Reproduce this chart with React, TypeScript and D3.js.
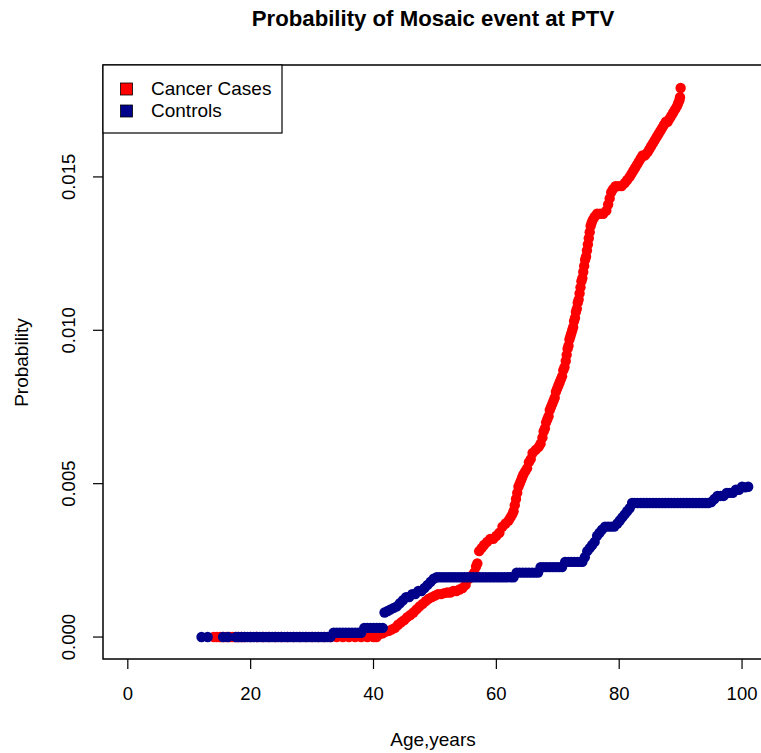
import React from "react";
import * as d3 from "d3";

const title = "Probability of Mosaic event at PTV";
const xLabel = "Age,years";
const yLabel = "Probability";
const seriesNames = ["Cancer Cases", "Controls"];
const seriesColors = ["#FF0000", "#00008B"];
const xTicks = [0, 20, 40, 60, 80, 100];
const yTicks = [0, 0.005, 0.01, 0.015];
const yTickLabels = ["0.000", "0.005", "0.010", "0.015"];

// Cancer cases: age, probability
const casesAge = [
  14, 14.5, 15, 15.5, 16, 16.5, 17, 17.5, 18, 18.5, 19, 20, 21, 22, 23, 24, 25, 26, 27, 28, 29, 30, 31, 32, 33, 34, 35, 36, 37, 38, 39, 40, 40.5,
  41, 41.5, 42, 42.5, 43, 43.5, 44, 44.5, 45, 45.5, 46, 46.5, 47, 47.5, 48, 48.5, 49, 49.5, 50, 50.5, 51, 51.5, 52, 52.5, 53, 53.5, 54, 54.5, 55, 55.5, 56, 56.4, 56.7, 56.9,
  57.2, 57.6, 58, 58.5, 59, 59.5, 60, 60.5, 61, 61.5, 62, 62.3,
  62.6, 62.8, 63.0, 63.2, 63.4, 63.6, 63.8, 64.0, 64.2, 64.4, 64.7, 65.0, 65.3, 65.6, 65.9, 66.4, 66.9, 67.2, 67.5, 67.7, 67.9, 68.1, 68.3, 68.5, 68.7, 68.9,
  69.1, 69.3, 69.5, 69.7, 69.9, 70.1, 70.3, 70.5, 70.7, 70.9, 71.1, 71.3, 71.45, 71.6, 71.75, 71.9, 72.05, 72.2, 72.35, 72.5, 72.65, 72.8, 72.95,
  73.1, 73.25, 73.4, 73.55, 73.7, 73.85, 74.0, 74.15, 74.3, 74.45, 74.6, 74.75, 74.9, 75.05, 75.2, 75.35, 75.5, 75.7, 76.0, 76.4, 76.9, 77.4, 77.9,
  78.2, 78.45, 78.7, 79.0, 79.4, 79.9, 80.4, 80.9, 81.3, 81.7, 82.0, 82.3, 82.6, 82.9, 83.2, 83.5, 83.8, 84.2, 84.6, 84.9, 85.2, 85.5, 85.8,
  86.1, 86.4, 86.7, 87.0, 87.3, 87.6, 87.9, 88.2, 88.5, 88.8, 89.1, 89.4, 89.6, 89.8, 89.9, 90.0,
];
const casesProb = [
  0, 0, 0, 0, 0, 0, 0, 0, 0, 0, 0, 0, 0, 0, 0, 0, 0, 0, 0, 0, 0, 0, 0, 0, 0, 0, 0, 0, 0, 0, 0, 0, 0,
  0.0001, 0.00012, 0.00018, 0.0002, 0.00025, 0.0003, 0.0004, 0.00048, 0.00055, 0.00065, 0.00072, 0.0008, 0.0009, 0.001, 0.00108, 0.00117, 0.00125, 0.0013, 0.00135, 0.0014, 0.0014, 0.00143, 0.00145, 0.00145, 0.0015, 0.0015, 0.00155, 0.0016, 0.0017, 0.0019, 0.002, 0.0021, 0.0023, 0.0024,
  0.0028, 0.0029, 0.003, 0.0031, 0.0032, 0.0032, 0.0033, 0.0034, 0.0036, 0.0037, 0.0038, 0.0039,
  0.004, 0.0041, 0.0043, 0.0045, 0.0047, 0.0049, 0.005, 0.0051, 0.0052, 0.0053, 0.0054, 0.0055, 0.0057, 0.0058, 0.006, 0.0061, 0.0062, 0.0063, 0.0065, 0.0067, 0.0068, 0.007, 0.0071, 0.0072, 0.0074, 0.0075,
  0.0076, 0.0077, 0.0078, 0.008, 0.0081, 0.0082, 0.0083, 0.0084, 0.0085, 0.0087, 0.0088, 0.009, 0.0092, 0.0094, 0.0095, 0.0097, 0.0098, 0.0099, 0.01, 0.0101, 0.0103, 0.0104, 0.0106,
  0.0107, 0.0109, 0.011, 0.0112, 0.0114, 0.0116, 0.0117, 0.0119, 0.0121, 0.0123, 0.0124, 0.0126, 0.0128, 0.013, 0.0132, 0.0134, 0.0135, 0.0136, 0.0137, 0.0138, 0.0138, 0.0138, 0.0139,
  0.0141, 0.0143, 0.0145, 0.0146, 0.0147, 0.0147, 0.0147, 0.0148, 0.0149, 0.015, 0.0151, 0.0152, 0.0153, 0.0154, 0.0155, 0.0156, 0.0157, 0.0157, 0.0158, 0.0159, 0.016, 0.0161, 0.0162,
  0.0163, 0.0164, 0.0165, 0.0166, 0.0167, 0.0168, 0.0168, 0.0169, 0.017, 0.0171, 0.0172, 0.0173, 0.0174, 0.0175, 0.0176, 0.0179,
];

// Controls: age, probability
const controlsAge = [
  12, 13, 15.5, 16.3, 17.6, 18, 18.5, 19, 19.5, 20, 20.5, 21, 21.5, 22, 22.5, 23, 23.5, 24, 24.5, 25, 25.5, 26, 26.5, 27, 27.5, 28, 28.5, 29, 29.5, 30, 30.5, 31, 31.5, 32, 32.5, 33,
  33.5, 34, 34.5, 35, 35.5, 36, 36.5, 37, 37.5, 38,
  38.5, 39, 39.5, 40, 40.5, 41, 41.5,
  41.8, 42.3, 42.8, 43.3, 43.8, 44.3, 44.8, 45.3, 45.8, 46.3, 46.8, 47.3, 47.8, 48.3, 48.8, 49.3, 49.8, 50.3,
  50.8, 51.3, 51.8, 52.3, 52.8, 53.3, 53.8, 54.3, 54.8, 55.3, 55.8, 56.3, 56.8, 57.3, 57.8, 58.3, 58.8, 59.3, 59.8, 60.3, 60.8, 61.3, 61.8, 62.3, 62.8,
  63.3, 63.8, 64.3, 64.8, 65.3, 65.8, 66.3, 66.8,
  67.2, 67.7, 68.2, 68.7, 69.2, 69.7, 70.2, 70.7,
  71.2, 71.7, 72.2, 72.7, 73.2, 73.7, 74.0,
  74.4, 74.8, 75.2, 75.6, 76.0, 76.4, 76.8, 77.2, 77.7, 78.2, 78.7, 79.2, 79.7, 80.1, 80.5, 80.9, 81.3, 81.7, 82.1,
  82.5, 83, 83.5, 84, 84.5, 85, 85.5, 86, 86.5, 87, 87.5, 88, 88.5, 89, 89.5, 90, 90.5, 91, 91.5, 92, 92.5, 93, 93.5, 94, 94.5,
  95, 95.5, 96, 96.5, 97, 97.5, 98, 98.5, 99, 99.5, 100, 100.5, 101,
];
const controlsProb = [
  0, 0, 0, 0, 0, 0, 0, 0, 0, 0, 0, 0, 0, 0, 0, 0, 0, 0, 0, 0, 0, 0, 0, 0, 0, 0, 0, 0, 0, 0, 0, 0, 0, 0, 0, 0,
  0.00014, 0.00014, 0.00014, 0.00014, 0.00014, 0.00014, 0.00014, 0.00014, 0.00014, 0.00014,
  0.0003, 0.0003, 0.0003, 0.0003, 0.0003, 0.0003, 0.0003,
  0.0008, 0.00085, 0.0009, 0.00095, 0.001, 0.0011, 0.0012, 0.0013, 0.0013, 0.0014, 0.0014, 0.0015, 0.0015, 0.0016, 0.0017, 0.0018, 0.0019, 0.00195,
  0.00195, 0.00195, 0.00195, 0.00195, 0.00195, 0.00195, 0.00195, 0.00195, 0.00195, 0.00195, 0.00195, 0.00195, 0.00195, 0.00195, 0.00195, 0.00195, 0.00195, 0.00195, 0.00195, 0.00195, 0.00195, 0.00195, 0.00195, 0.00195, 0.00195,
  0.0021, 0.0021, 0.0021, 0.0021, 0.0021, 0.0021, 0.0021, 0.0021,
  0.00228, 0.00228, 0.00228, 0.00228, 0.00228, 0.00228, 0.00228, 0.00228,
  0.00245, 0.00245, 0.00245, 0.00245, 0.00245, 0.00245, 0.00245,
  0.0026, 0.0028, 0.0029, 0.003, 0.0031, 0.0033, 0.0034, 0.0035, 0.0036, 0.0036, 0.0036, 0.0036, 0.0037, 0.0038, 0.0039, 0.004, 0.0041, 0.0042, 0.00437,
  0.00437, 0.00437, 0.00437, 0.00437, 0.00437, 0.00437, 0.00437, 0.00437, 0.00437, 0.00437, 0.00437, 0.00437, 0.00437, 0.00437, 0.00437, 0.00437, 0.00437, 0.00437, 0.00437, 0.00437, 0.00437, 0.00437, 0.00437, 0.00437, 0.00437,
  0.0044, 0.0045, 0.0046, 0.0046, 0.0046, 0.0047, 0.0047, 0.0047, 0.0048, 0.0048, 0.0049, 0.00488, 0.0049,
];

const W = 761;
const H = 753;
const plot = { left: 103, right: 773, top: 66, bottom: 659 };
const FONT = "'Liberation Sans', Arial, Helvetica, sans-serif";

export default function App() {
  const x = d3.scaleLinear().domain([-4.04, 105.04]).range([plot.left, plot.right]);
  const y = d3.scaleLinear().domain([-0.000716, 0.018616]).range([plot.bottom, plot.top]);

  const cases = casesAge.map((a, i) => ({ a, p: casesProb[i] }));
  const controls = controlsAge.map((a, i) => ({ a, p: controlsProb[i] }));
  const series = [cases, controls];

  const cx = 433;
  const r = 5.2;

  return (
    <svg
      width={W}
      height={H}
      viewBox={`0 0 ${W} ${H}`}
      style={{ position: "absolute", left: 0, top: 0, background: "#fff" }}
      fontFamily={FONT}
    >
      <rect x={0} y={0} width={W} height={H} fill="#fff" />
      <text x={cx} y={26} textAnchor="middle" fontSize={22.2} fontWeight="bold" fill="#000">
        {title}
      </text>

      {series.map((s, si) => (
        <g key={si} fill={seriesColors[si]}>
          {s.map((d, i) => (
            <circle key={i} cx={x(d.a)} cy={y(d.p)} r={r} />
          ))}
        </g>
      ))}

      {/* plot box */}
      <rect
        x={plot.left}
        y={plot.top - 1}
        width={plot.right - plot.left}
        height={plot.bottom - plot.top + 1}
        fill="none"
        stroke="#000"
        strokeWidth={1.5}
      />

      {/* x axis */}
      <g>
        {xTicks.map((t) => (
          <g key={t}>
            <line x1={x(t)} x2={x(t)} y1={plot.bottom} y2={plot.bottom + 10} stroke="#000" strokeWidth={1.2} />
            <text x={x(t)} y={700} textAnchor="middle" fontSize={18.5} fill="#000">
              {t}
            </text>
          </g>
        ))}
      </g>
      <text x={cx} y={746} textAnchor="middle" fontSize={19} fill="#000">
        {xLabel}
      </text>

      {/* y axis */}
      <g>
        {yTicks.map((t, i) => (
          <g key={t}>
            <line x1={plot.left - 10} x2={plot.left} y1={y(t)} y2={y(t)} stroke="#000" strokeWidth={1.2} />
            <text
              transform={`translate(75,${y(t)}) rotate(-90)`}
              textAnchor="middle"
              fontSize={18.5}
              fill="#000"
            >
              {yTickLabels[i]}
            </text>
          </g>
        ))}
      </g>
      <text
        transform={`translate(28,${(plot.top + plot.bottom) / 2}) rotate(-90)`}
        textAnchor="middle"
        fontSize={19}
        fill="#000"
      >
        {yLabel}
      </text>

      {/* legend */}
      <g>
        <rect x={103} y={65} width={179} height={68} fill="#fff" stroke="#000" strokeWidth={1.2} />
        {seriesNames.map((n, i) => (
          <g key={n}>
            <rect x={120.5} y={83 + i * 22} width={12} height={12} fill={seriesColors[i]} stroke="#000" strokeWidth={0.8} />
            <text x={151} y={95 + i * 22} fontSize={19} fill="#000">
              {n}
            </text>
          </g>
        ))}
      </g>
    </svg>
  );
}
